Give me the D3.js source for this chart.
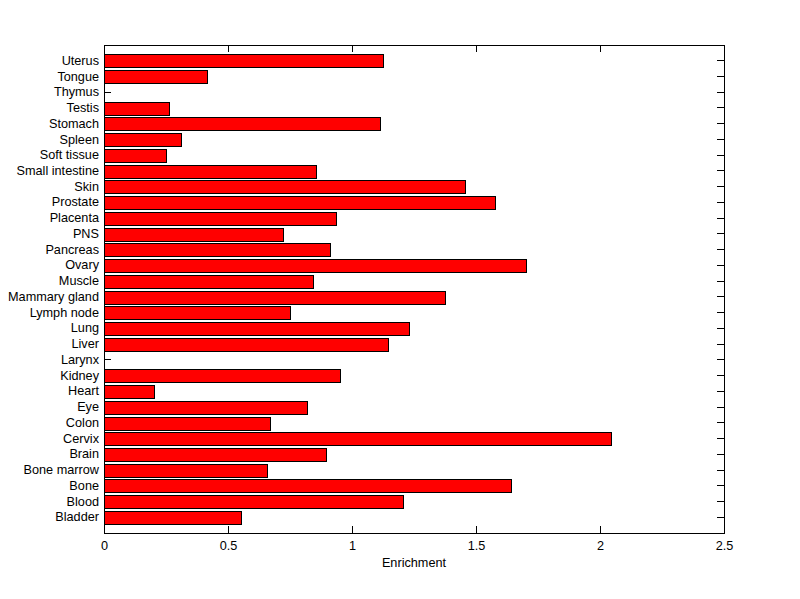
<!DOCTYPE html>
<html>
<head>
<meta charset="utf-8">
<script src="https://cdn.jsdelivr.net/npm/d3@7"></script>
<style>
  html, body { margin: 0; padding: 0; background: #ffffff; }
  svg { display: block; }
  text { font-family: "Liberation Sans", Arial, sans-serif; font-size: 12.7px; fill: #000; }
</style>
</head>
<body>
<svg id="chart" width="800" height="599"></svg>
<script>
// Categories listed bottom to top
const categories = ["Bladder","Blood","Bone","Bone marrow","Brain","Cervix","Colon","Eye","Heart","Kidney",
  "Larynx","Liver","Lung","Lymph node","Mammary gland","Muscle","Ovary","Pancreas","PNS","Placenta",
  "Prostate","Skin","Small intestine","Soft tissue","Spleen","Stomach","Testis","Thymus","Tongue","Uterus"];
const enrichment = [0.554, 1.207, 1.643, 0.659, 0.897, 2.046, 0.671, 0.820, 0.203, 0.953,
  0, 1.147, 1.231, 0.752, 1.377, 0.844, 1.703, 0.913, 0.723, 0.937,
  1.578, 1.457, 0.856, 0.252, 0.312, 1.114, 0.262, 0, 0.417, 1.127];
const xTicks = [0, 0.5, 1, 1.5, 2, 2.5];
const xTickLabels = ["0", "0.5", "1", "1.5", "2", "2.5"];
const xLabel = "Enrichment";

(function () {
  const svg = d3.select("#chart");
  const mLeft = 104, mRight = 724, mTop = 45, mBottom = 533;
  const fontSize = 12.7;

  const x = d3.scaleLinear().domain([0, 2.5]).range([mLeft, mRight]);
  const y = d3.scaleBand().domain(categories).range([mBottom, mTop]).paddingInner(0.2).paddingOuter(0.6);

  const tickLen = 7;

  // Axes (drawn first so bars cover the inward ticks)
  const gBottom = svg.append("g").attr("transform", `translate(0,${mBottom})`)
    .call(d3.axisBottom(x).tickValues(xTicks).tickFormat((d, i) => xTickLabels[i])
      .tickSizeInner(-tickLen).tickSizeOuter(0).tickPadding(8));
  const gTop = svg.append("g").attr("transform", `translate(0,${mTop})`)
    .call(d3.axisTop(x).tickValues(xTicks).tickFormat("").tickSizeInner(-tickLen).tickSizeOuter(0));
  const gLeft = svg.append("g").attr("transform", `translate(${mLeft},0)`)
    .call(d3.axisLeft(y).tickSizeInner(-tickLen).tickSizeOuter(0).tickPadding(5));
  const gRight = svg.append("g").attr("transform", `translate(${mRight},0)`)
    .call(d3.axisRight(y).tickFormat("").tickSizeInner(-tickLen).tickSizeOuter(0));

  [gBottom, gTop, gLeft, gRight].forEach(g => {
    g.selectAll("path, line").attr("stroke", "#000").attr("stroke-width", 1).attr("shape-rendering", "crispEdges");
    g.selectAll("text").attr("font-family", "'Liberation Sans', Arial, sans-serif").attr("font-size", fontSize).attr("fill", "#000");
  });

  // Bars
  svg.append("g").selectAll("rect")
    .data(categories.map((c, i) => ({ c, v: enrichment[i] })).filter(d => d.v > 0))
    .join("rect")
    .attr("x", x(0) + 0.5)
    .attr("y", d => Math.round(y(d.c)) + 0.5)
    .attr("width", d => Math.round(x(d.v) - x(0)))
    .attr("height", d => Math.round(y.bandwidth()))
    .attr("fill", "#ff0000")
    .attr("stroke", "#000")
    .attr("stroke-width", 1)
    .attr("shape-rendering", "crispEdges");

  // X label
  svg.append("text")
    .attr("x", (mLeft + mRight) / 2)
    .attr("y", 567)
    .attr("text-anchor", "middle")
    .attr("font-size", fontSize)
    .text(xLabel);
})();
</script>
</body>
</html>
